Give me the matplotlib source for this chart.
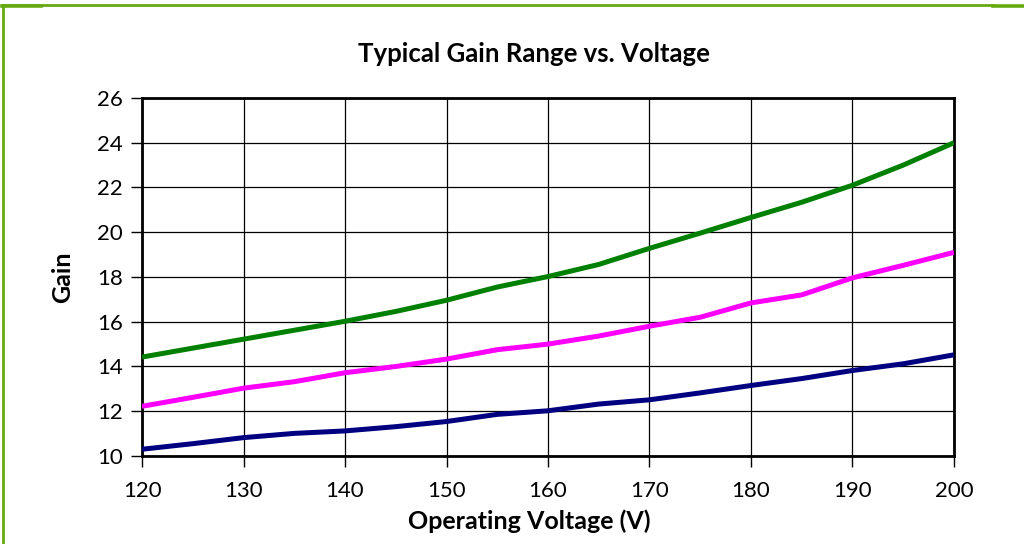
import matplotlib
matplotlib.use('Agg')
import matplotlib.pyplot as plt
from matplotlib.lines import Line2D

plt.rcParams['font.family'] = ['Lato', 'DejaVu Sans']

# ---------------- data ----------------
voltage = [120, 125, 130, 135, 140, 145, 150, 155, 160, 165, 170, 175, 180, 185, 190, 195, 200]
gain_high = [14.42, 14.82, 15.22, 15.62, 16.02, 16.46, 16.96, 17.55, 18.02, 18.56, 19.28, 19.96, 20.66, 21.34, 22.1, 23.0, 24.0]
gain_mid = [12.22, 12.62, 13.03, 13.32, 13.72, 14.0, 14.33, 14.75, 15.0, 15.36, 15.8, 16.2, 16.84, 17.2, 17.96, 18.52, 19.1]
gain_low = [10.3, 10.55, 10.82, 11.01, 11.12, 11.31, 11.54, 11.86, 12.02, 12.32, 12.51, 12.82, 13.15, 13.46, 13.82, 14.12, 14.52]

x_ticks = [120, 130, 140, 150, 160, 170, 180, 190, 200]
y_ticks = [10, 12, 14, 16, 18, 20, 22, 24, 26]

fig = plt.figure(figsize=(10.24, 5.44), dpi=100)
ax = fig.add_axes([0.1387, 0.1618, 0.7929, 0.6581])

ax.plot(voltage, gain_high, color='#008000', lw=3.6, solid_capstyle='butt', zorder=3)
ax.plot(voltage, gain_mid, color='#FF00FF', lw=3.6, solid_capstyle='butt', zorder=3)
ax.plot(voltage, gain_low, color='#000080', lw=3.6, solid_capstyle='butt', zorder=3)

ax.set_xlim(120, 200)
ax.set_ylim(10, 26)
ax.set_xticks(x_ticks)
ax.set_yticks(y_ticks)
ax.grid(True, color='black', lw=0.9)
ax.set_axisbelow(True)
for s in ax.spines.values():
    s.set_linewidth(2)
    s.set_color('black')
ax.tick_params(axis='both', direction='out', length=8, width=1, labelsize=16, pad=6, colors='black')
ax.tick_params(axis='x', pad=10)

ax.set_title('Typical Gain Range vs. Voltage', fontsize=18.5, fontweight='bold', pad=26, x=0.483)
ax.set_xlabel('Operating Voltage (V)', fontsize=18, fontweight='bold', labelpad=6)
ax.xaxis.label.set_x(0.477)
ax.set_ylabel('Gain', fontsize=18, fontweight='bold', labelpad=16)

# green frame around the chart area
frame = '#66AA11'
fig.add_artist(Line2D([0.002, 0.97], [0.991, 0.991], color=frame, lw=2, transform=fig.transFigure))
fig.add_artist(Line2D([0.97, 1.0], [0.989, 0.989], color=frame, lw=2.6, transform=fig.transFigure))
fig.add_artist(Line2D([0.002, 0.04], [0.989, 0.989], color=frame, lw=2.6, transform=fig.transFigure))
fig.add_artist(Line2D([0.0025, 0.0025], [0.0, 0.991], color=frame, lw=2, transform=fig.transFigure))

fig.savefig('out.png', dpi=100)
